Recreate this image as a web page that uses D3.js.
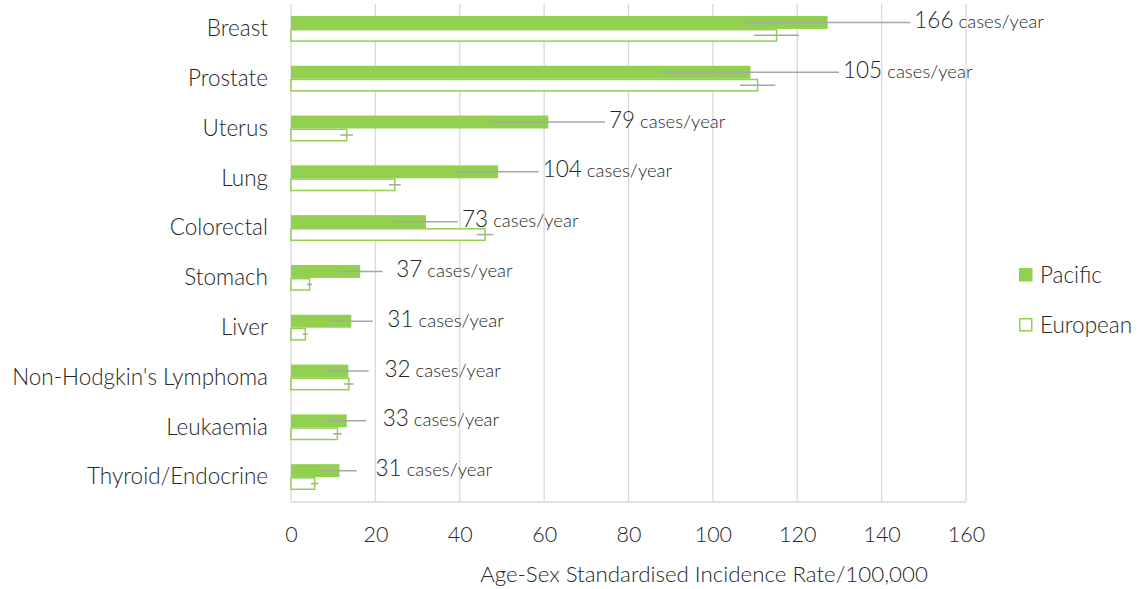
<!DOCTYPE html>
<html>
<head>
<meta charset="utf-8">
<script src="https://cdn.jsdelivr.net/npm/d3@7"></script>
<style>
  html, body { margin: 0; padding: 0; background: #fff; overflow: hidden; }
  svg { display: block; }
  text { font-family: Lato, "Open Sans", sans-serif; font-weight: 300; fill: #262626; }
</style>
</head>
<body>
<div id="chart"></div>
<script>
// 数据
const categories = ['Breast', 'Prostate', 'Uterus', 'Lung', 'Colorectal', 'Stomach', 'Liver',
  "Non-Hodgkin's Lymphoma", 'Leukaemia', 'Thyroid/Endocrine'];
const seriesNames = ['Pacific', 'European'];
const pacific = [127.2, 108.9, 61.0, 49.1, 32.0, 16.4, 14.3, 13.6, 13.2, 11.5];
const pacificErr = [19.6, 21.0, 13.4, 9.6, 7.5, 5.3, 5.1, 4.8, 4.6, 4.1];
const european = [115.1, 110.6, 13.2, 24.6, 46.0, 4.4, 3.4, 13.7, 11.0, 5.6];
const europeanErr = [5.3, 4.2, 1.5, 1.4, 2.0, 0.6, 0.6, 1.1, 1.0, 0.9];
const casesPerYear = [166, 105, 79, 104, 73, 37, 31, 32, 33, 31];
const xTicks = [0, 20, 40, 60, 80, 100, 120, 140, 160];

const width = 1139, height = 589;
const margin = { top: 4, right: 173, bottom: 87, left: 291 };
const innerWidth = width - margin.left - margin.right;
const innerHeight = height - margin.top - margin.bottom;
const green = '#92D050', errGrey = '#A6A6A6', gridGrey = '#D9D9D9';

const svg = d3.select('#chart').append('svg')
  .attr('width', width).attr('height', height)
  .attr('viewBox', `0 0 ${width} ${height}`);
const mg = svg.append('g').attr('transform', `translate(${margin.left},${margin.top})`);

// 坐标轴
const x = d3.scaleLinear().domain([0, 160]).range([0, innerWidth]);
const y0 = d3.scaleBand().domain(categories).range([0, innerHeight])
  .paddingInner(0.48).paddingOuter(0.24);
const y1 = d3.scaleBand().domain(seriesNames).range([0, y0.bandwidth()]);

// 网格线
mg.append('g').selectAll('line').data(xTicks).join('line')
  .attr('x1', d => x(d)).attr('x2', d => x(d))
  .attr('y1', 0).attr('y2', innerHeight)
  .attr('stroke', gridGrey).attr('stroke-width', 1.3);
mg.append('line').attr('x1', 0).attr('x2', innerWidth)
  .attr('y1', innerHeight).attr('y2', innerHeight)
  .attr('stroke', gridGrey).attr('stroke-width', 1.3);

const xAxis = mg.append('g').attr('transform', `translate(0,${innerHeight})`)
  .call(d3.axisBottom(x).tickValues(xTicks).tickSize(0).tickPadding(25));
xAxis.select('.domain').remove();
xAxis.selectAll('text').attr('font-size', 21.5).style('font-family', 'Lato, sans-serif');

const yAxis = mg.append('g')
  .call(d3.axisLeft(y0).tickSize(0).tickPadding(23));
yAxis.select('.domain').remove();
yAxis.selectAll('text').attr('font-size', 22.5).style('font-family', 'Lato, sans-serif');

// 柱子
const rows = categories.map((c, i) => ({
  c, p: pacific[i], pe: pacificErr[i], e: european[i], ee: europeanErr[i], n: casesPerYear[i]
}));
const grp = mg.append('g').selectAll('g').data(rows).join('g')
  .attr('transform', d => `translate(0,${y0(d.c)})`);

grp.append('rect')
  .attr('x', 0).attr('y', y1('Pacific'))
  .attr('width', d => x(d.p)).attr('height', y1.bandwidth())
  .attr('fill', green);
grp.append('rect')
  .attr('x', 0).attr('y', y1('European') + 0.75)
  .attr('width', d => x(d.e)).attr('height', y1.bandwidth() - 1.5)
  .attr('fill', '#fff').attr('stroke', green).attr('stroke-width', 1.5);

// 误差线
grp.append('line')
  .attr('x1', d => x(d.p - d.pe)).attr('x2', d => x(d.p + d.pe))
  .attr('y1', y1('Pacific') + y1.bandwidth() / 2).attr('y2', y1('Pacific') + y1.bandwidth() / 2)
  .attr('stroke', errGrey).attr('stroke-width', 1.5);
grp.append('line')
  .attr('x1', d => x(d.e - d.ee)).attr('x2', d => x(d.e + d.ee))
  .attr('y1', y1('European') + y1.bandwidth() / 2).attr('y2', y1('European') + y1.bandwidth() / 2)
  .attr('stroke', errGrey).attr('stroke-width', 1.5);

// 标签
const lab = grp.append('text')
  .attr('x', d => Math.max(x(d.p + d.pe) + 4, x(d.p) + 36))
  .attr('y', y1('Pacific') + y1.bandwidth() / 2)
  .attr('dy', '0.35em');
lab.append('tspan').attr('font-size', 22.5).text(d => d.n);
lab.append('tspan').attr('font-size', 18.5).text(' cases/year');

// 轴标题
svg.append('text')
  .attr('x', 704).attr('y', 582)
  .attr('text-anchor', 'middle').attr('font-size', 22.3)
  .text('Age-Sex Standardised Incidence Rate/100,000');

// 图例
const legend = svg.append('g').attr('transform', 'translate(1019,268)');
const li = legend.selectAll('g').data(seriesNames).join('g')
  .attr('transform', (d, i) => `translate(0,${i * 50})`);
li.append('rect')
  .attr('x', 0.75).attr('y', 0.75).attr('width', 12).attr('height', 12)
  .attr('fill', (d, i) => i === 0 ? green : '#fff')
  .attr('stroke', green).attr('stroke-width', 1.5);
li.append('text').attr('x', 21).attr('y', 7).attr('dy', '0.35em')
  .attr('font-size', 22.5).text(d => d);
</script>
</body>
</html>
